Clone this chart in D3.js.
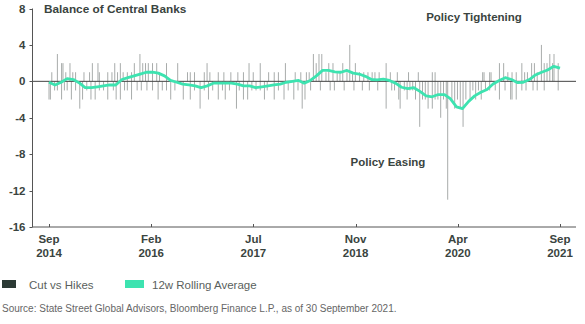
<!DOCTYPE html>
<html>
<head>
<meta charset="utf-8">
<script src="https://cdn.jsdelivr.net/npm/d3@7"></script>
<style>
  body { margin: 0; background: #fff; }
  text { font-family: "Liberation Sans", Arial, sans-serif; }
</style>
</head>
<body>
<div id="chart"></div>
<script>
// weekly counts, week index from 1 Sep 2014
var hikes = [[2,1],[6,3],[9,2],[10,2],[12,1],[15,2],[17,1],[19,1],[25,1],[29,1],[31,2],[35,2],[36,1],
  [42,1],[45,1],[47,2],[49,1],[51,2],[53,1],[56,1],[59,1],[61,2],[65,3],[67,2],[69,2],[71,2],[74,2],
  [77,2],[79,1],[84,2],[92,2],[99,1],[101,1],[104,1],[111,1],[113,2],[115,1],[121,1],[125,1],[130,1],
  [135,1],[139,1],[143,2],[146,1],[151,2],[157,1],[161,1],[164,1],[169,2],[176,1],[180,1],[184,1],
  [186,1],[189,3],[191,2],[193,3],[195,3],[198,1],[200,2],[203,2],[206,1],[208,1],[210,2],[213,1],
  [215,4],[217,1],[219,2],[222,1],[225,1],[228,1],[231,1],[233,1],[236,1],[241,2],[244,1],[249,1],
  [257,1],[264,1],[274,1],[276,1],[310,1],[311,1],[315,1],[316,1],[322,2],[325,2],[328,1],[331,1],
  [334,1],[338,2],[340,1],[342,1],[345,2],[347,2],[349,1],[352,4],[354,2],[356,2],[358,3],[360,2],
  [361,3],[364,2]];

var cuts = [[0,-2],[1,-2],[4,-1],[6,-1],[9,-2],[11,-1],[13,-1],[16,-2],[19,-1],[22,-3],[24,-2],[27,-1],
  [30,-2],[33,-2],[36,-1],[39,-1],[42,-2],[46,-1],[48,-2],[51,-2],[54,-1],[56,-1],[59,-2],[63,-1],
  [66,-1],[70,-1],[74,-1],[78,-2],[81,-1],[84,-1],[87,-2],[90,-1],[96,-2],[101,-2],[104,-1],[108,-3],
  [111,-1],[114,-2],[117,-1],[121,-2],[124,-1],[126,-2],[129,-1],[134,-3],[136,-1],[139,-2],[142,-2],
  [145,-1],[148,-1],[151,-1],[154,-2],[156,-1],[161,-2],[164,-1],[168,-2],[171,-1],[175,-2],[178,-1],
  [181,-3],[183,-2],[187,-1],[194,-1],[201,-1],[204,-1],[211,-1],[218,-1],[224,-1],[229,-1],[235,-1],
  [241,-3],[245,-1],[247,-1],[250,-2],[251,-3],[254,-1],[256,-2],[258,-1],[260,-1],[262,-2],[265,-5],
  [267,-2],[269,-2],[271,-3],[274,-3],[276,-2],[278,-2],[280,-4],[282,-2],[284,-3],[285,-13],[288,-2],
  [290,-3],[292,-2],[294,-3],[296,-5],[298,-2],[301,-2],[303,-1],[305,-2],[307,-1],[309,-2],[312,-1],
  [315,-1],[319,-1],[322,-2],[326,-1],[330,-2],[331,-2],[334,-2],[338,-1],[341,-1],[346,-1],[349,-1],
  [354,-1],[364,-1]];

// 12w rolling average, one value per month from Sep 2014
var rolling = [-0.1,-0.4,-0.1,0.3,0.2,-0.2,-0.7,-0.7,-0.6,-0.5,-0.4,-0.4,
  0.2,0.4,0.6,0.8,1.0,1.0,0.9,0.6,0.1,-0.1,-0.3,-0.4,
  -0.5,-0.7,-0.5,-0.2,-0.2,-0.2,-0.2,-0.3,-0.5,-0.5,-0.7,-0.6,
  -0.5,-0.4,-0.3,-0.1,0.0,0.1,-0.2,0.1,0.6,1.2,1.2,1.05,
  1.0,1.2,0.9,0.8,0.55,0.2,0.15,0.25,0.1,-0.2,-0.65,-0.8,
  -0.7,-1.1,-1.6,-1.7,-1.45,-1.45,-1.9,-2.8,-3.0,-2.2,-1.6,-1.2,
  -0.9,-0.3,0.1,0.4,0.2,-0.15,-0.1,0.2,0.7,1.0,1.25,1.65,1.45];

var yTicks = [8, 4, 0, -4, -8, -12, -16];
var xTickMonths = ["Sep", "Feb", "Jul", "Nov", "Apr", "Sep"];
var xTickYears = ["2014", "2016", "2017", "2018", "2020", "2021"];

var W = 585, H = 324;
var start = new Date(2014, 8, 1), end = new Date(2021, 8, 1);
var ink = "#3a4440", green = "#3de3b0", dark = "#2c3a35";

var svg = d3.select("#chart").append("svg")
    .attr("width", W).attr("height", H);

var x = d3.scaleTime().domain([start, end]).range([49, 560]);
var y = d3.scaleLinear().domain([-16, 8]).range([227, 8.5]);
var weekDate = function (w) { return d3.timeDay.offset(start, w * 7); };

// y axis
svg.append("line").attr("x1", 32.5).attr("x2", 32.5).attr("y1", y(8)).attr("y2", y(-16))
    .attr("stroke", "#555").attr("stroke-width", 1);
svg.selectAll(".ytick").data(yTicks).enter().append("line")
    .attr("x1", 29.5).attr("x2", 32.5)
    .attr("y1", function (d) { return Math.round(y(d)) + 0.5; })
    .attr("y2", function (d) { return Math.round(y(d)) + 0.5; })
    .attr("stroke", "#555");
svg.selectAll(".ylab").data(yTicks).enter().append("text")
    .attr("x", 25.5).attr("y", function (d) { return y(d) + 4; })
    .attr("text-anchor", "end").attr("font-size", 11.5).attr("font-weight", "bold")
    .attr("fill", ink).text(function (d) { return d; });

// x axis
var tickDates = d3.range(6).map(function (i) {
    return new Date(+start + i * (end - start) / 5);
});
svg.append("line").attr("x1", 32).attr("x2", 576).attr("y1", 227).attr("y2", 227)
    .attr("stroke", "#555");
svg.selectAll(".xtick").data(tickDates).enter().append("line")
    .attr("x1", function (d) { return Math.round(x(d)) + 0.5; })
    .attr("x2", function (d) { return Math.round(x(d)) + 0.5; })
    .attr("y1", 224).attr("y2", 227).attr("stroke", "#555");
var xl = svg.selectAll(".xlab").data(tickDates).enter().append("text")
    .attr("text-anchor", "middle").attr("font-size", 11.5).attr("font-weight", "bold")
    .attr("fill", ink);
xl.append("tspan").attr("x", function (d) { return x(d); }).attr("y", 243)
    .text(function (d, i) { return xTickMonths[i]; });
xl.append("tspan").attr("x", function (d) { return x(d); }).attr("y", 257)
    .text(function (d, i) { return xTickYears[i]; });

// bars
svg.append("g").selectAll("line").data(hikes.concat(cuts)).enter().append("line")
    .attr("x1", function (d) { return x(weekDate(d[0])); })
    .attr("x2", function (d) { return x(weekDate(d[0])); })
    .attr("y1", y(0)).attr("y2", function (d) { return y(d[1]); })
    .attr("stroke", "#9ea3a1").attr("stroke-width", 0.9);

// zero line
svg.append("line").attr("x1", 33).attr("x2", 576).attr("y1", y(0)).attr("y2", y(0))
    .attr("stroke", "#444").attr("stroke-width", 1);

// rolling average
var line = d3.line()
    .x(function (d, i) { return x(d3.timeMonth.offset(start, i)); })
    .y(function (d) { return y(d); });
svg.append("path").datum(rolling).attr("d", line)
    .attr("fill", "none").attr("stroke", green).attr("stroke-width", 2.8)
    .attr("stroke-linejoin", "round");

// annotations
svg.append("text").attr("x", 44).attr("y", 13).attr("font-size", 11.8).attr("font-weight", "bold")
    .attr("fill", ink).text("Balance of Central Banks");
svg.append("text").attr("x", 474).attr("y", 21).attr("text-anchor", "middle")
    .attr("font-size", 11.5).attr("font-weight", "bold").attr("fill", ink).text("Policy Tightening");
svg.append("text").attr("x", 388).attr("y", 166).attr("text-anchor", "middle")
    .attr("font-size", 11.5).attr("font-weight", "bold").attr("fill", ink).text("Policy Easing");

// legend
svg.append("rect").attr("x", 2).attr("y", 280).attr("width", 14).attr("height", 8).attr("fill", dark);
svg.append("text").attr("x", 29).attr("y", 288.5).attr("font-size", 11.5).attr("fill", "#5a5f5d")
    .text("Cut vs Hikes");
svg.append("rect").attr("x", 125).attr("y", 280).attr("width", 19).attr("height", 8).attr("fill", green);
svg.append("text").attr("x", 152).attr("y", 288.5).attr("font-size", 11.5).attr("fill", "#5a5f5d")
    .text("12w Rolling Average");

// source
svg.append("text").attr("x", 2).attr("y", 312).attr("font-size", 10).attr("fill", "#666")
    .text("Source: State Street Global Advisors, Bloomberg Finance L.P., as of 30 September 2021.");
</script>
</body>
</html>
